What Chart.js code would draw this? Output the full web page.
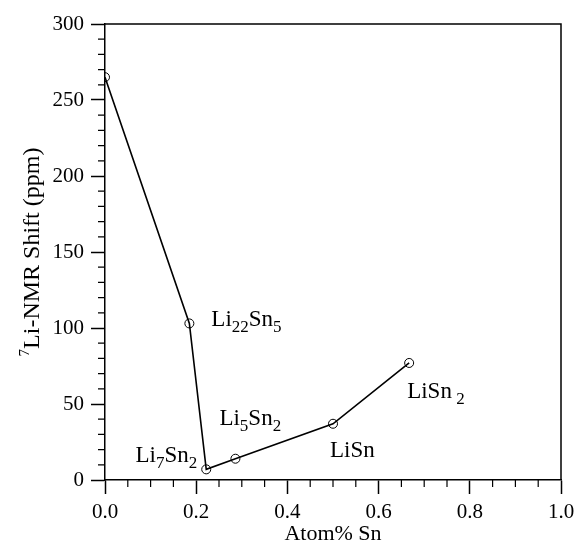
<!DOCTYPE html>
<html>
<head>
<meta charset="utf-8">
<script src="https://cdn.jsdelivr.net/npm/chart.js@4.4.1/dist/chart.umd.min.js"></script>
<style>
  html, body { margin: 0; padding: 0; background: #fff; }
  #wrap { width: 574px; height: 547px; }
</style>
</head>
<body>
<div id="wrap"><canvas id="c" width="574" height="547"></canvas></div>
<script>
// ---- data ----
const atomFractionSn = [0, 0.185, 0.222, 0.286, 0.5, 0.667];
const liShiftPpm = [265, 103, 7, 14, 37, 77];
// phase labels (with _{..} subscripts) and the data point index each belongs to
const phaseNames = ['Li_{22}Sn_{5}', 'Li_{7}Sn_{2}', 'Li_{5}Sn_{2}', 'LiSn', 'LiSn_{ 2}'];
const phasePointIndex = [1, 2, 3, 4, 5];
const xTickValues = [0, 0.2, 0.4, 0.6, 0.8, 1.0];
const yTickValues = [0, 50, 100, 150, 200, 250, 300];
const xTitle = 'Atom% Sn';
const yTitleSup = '7';
const yTitleMain = 'Li-NMR Shift (ppm)';

// ---- style ----
const FONT = '"Liberation Serif", "Times New Roman", serif';
const labelStyle = [
  { align: 'left',  dx: 22,  dy: 3 },
  { align: 'right', dx: -9,  dy: -7 },
  { align: 'left',  dx: -16, dy: -34 },
  { align: 'left',  dx: -3,  dy: 33 },
  { align: 'left',  dx: -2,  dy: 35 }
];
const LABEL_SIZE = 23, SUB_SIZE = 17, SUB_DROP = 6;
const X_MINOR = 0.05, Y_MINOR = 10, MINOR_LEN = 7, AXIS_W = 1.5;

function parseRich(s) {
  const parts = [];
  const re = /_\{([^}]*)\}/g;
  let last = 0, m;
  while ((m = re.exec(s))) {
    if (m.index > last) parts.push({ t: s.slice(last, m.index), sub: false });
    parts.push({ t: m[1], sub: true });
    last = re.lastIndex;
  }
  if (last < s.length) parts.push({ t: s.slice(last), sub: false });
  return parts;
}

function drawRich(ctx, str, x, y, align) {
  const parts = parseRich(str);
  let total = 0;
  parts.forEach(p => {
    ctx.font = (p.sub ? SUB_SIZE : LABEL_SIZE) + 'px ' + FONT;
    p.w = ctx.measureText(p.t).width;
    total += p.w;
  });
  let cx = align === 'right' ? x - total : (align === 'center' ? x - total / 2 : x);
  ctx.textAlign = 'left';
  ctx.textBaseline = 'alphabetic';
  parts.forEach(p => {
    ctx.font = (p.sub ? SUB_SIZE : LABEL_SIZE) + 'px ' + FONT;
    ctx.fillText(p.t, cx, y + (p.sub ? SUB_DROP : 0));
    cx += p.w;
  });
}

const decorPlugin = {
  id: 'decor',
  afterDraw(chart) {
    const { ctx, chartArea: a, scales: { x, y } } = chart;
    ctx.save();
    ctx.strokeStyle = '#000';
    ctx.fillStyle = '#000';
    // frame (top & right)
    ctx.lineWidth = AXIS_W;
    ctx.beginPath();
    ctx.moveTo(a.left, a.top); ctx.lineTo(a.right, a.top); ctx.lineTo(a.right, a.bottom);
    ctx.stroke();
    // minor ticks
    ctx.lineWidth = 1.2;
    ctx.beginPath();
    const nx = Math.round((x.max - x.min) / X_MINOR);
    for (let i = 0; i <= nx; i++) {
      const v = x.min + i * X_MINOR;
      if (xTickValues.some(t => Math.abs(t - v) < 1e-9)) continue;
      const px = x.getPixelForValue(v);
      ctx.moveTo(px, a.bottom); ctx.lineTo(px, a.bottom + MINOR_LEN);
    }
    const ny = Math.round((y.max - y.min) / Y_MINOR);
    for (let i = 0; i <= ny; i++) {
      const v = y.min + i * Y_MINOR;
      if (yTickValues.some(t => Math.abs(t - v) < 1e-9)) continue;
      const py = y.getPixelForValue(v);
      ctx.moveTo(a.left, py); ctx.lineTo(a.left - MINOR_LEN, py);
    }
    ctx.stroke();
    // phase labels
    phaseNames.forEach((name, i) => {
      const k = phasePointIndex[i];
      const px = x.getPixelForValue(atomFractionSn[k]);
      const py = y.getPixelForValue(liShiftPpm[k]);
      const st = labelStyle[i];
      drawRich(ctx, name, px + st.dx, py + st.dy, st.align);
    });
    // y title (with superscript)
    ctx.translate(39, (a.top + a.bottom) / 2);
    ctx.rotate(-Math.PI / 2);
    ctx.font = '15px ' + FONT;
    const wSup = ctx.measureText(yTitleSup).width;
    ctx.font = '24px ' + FONT;
    const wMain = ctx.measureText(yTitleMain).width;
    const start = -(wSup + wMain) / 2;
    ctx.textAlign = 'left';
    ctx.textBaseline = 'alphabetic';
    ctx.font = '15px ' + FONT;
    ctx.fillText(yTitleSup, start, -10);
    ctx.font = '24px ' + FONT;
    ctx.fillText(yTitleMain, start + wSup, 0);
    ctx.restore();
  }
};

new Chart(document.getElementById('c'), {
  type: 'scatter',
  data: {
    datasets: [{
      data: atomFractionSn.map((v, i) => ({ x: v, y: liShiftPpm[i] })),
      showLine: true,
      borderColor: '#000',
      borderWidth: 1.6,
      tension: 0,
      pointStyle: 'circle',
      pointRadius: 4.5,
      pointBorderWidth: 1,
      pointBorderColor: '#000',
      pointBackgroundColor: 'rgba(0,0,0,0)'
    }]
  },
  options: {
    responsive: false,
    animation: false,
    devicePixelRatio: 1,
    layout: { padding: { left: 0, right: 13, top: 24, bottom: 0 } },
    plugins: { legend: { display: false }, tooltip: { enabled: false } },
    scales: {
      x: {
        type: 'linear', min: 0, max: 1,
        afterFit: s => { s.height = 67; s.paddingLeft = 0; s.paddingRight = 0; },
        afterBuildTicks: s => { s.ticks = xTickValues.map(v => ({ value: v })); },
        ticks: {
          color: '#000', padding: 6,
          font: { family: FONT, size: 21 },
          callback: v => Number(v).toFixed(1)
        },
        grid: { drawOnChartArea: false, drawTicks: true, tickLength: 14, tickWidth: 1.5, tickColor: '#000' },
        border: { display: true, color: '#000', width: AXIS_W },
        title: { display: true, text: xTitle, color: '#000', font: { family: FONT, size: 22 }, padding: { top: 0, bottom: 0 } }
      },
      y: {
        type: 'linear', min: 0, max: 300,
        afterFit: s => { s.width = 105; s.paddingTop = 0; s.paddingBottom = 0; },
        afterBuildTicks: s => { s.ticks = yTickValues.map(v => ({ value: v })); },
        ticks: {
          color: '#000', padding: 7,
          font: { family: FONT, size: 21 }
        },
        grid: { drawOnChartArea: false, drawTicks: true, tickLength: 14, tickWidth: 1.5, tickColor: '#000' },
        border: { display: true, color: '#000', width: AXIS_W }
      }
    }
  },
  plugins: [decorPlugin]
});
</script>
</body>
</html>
